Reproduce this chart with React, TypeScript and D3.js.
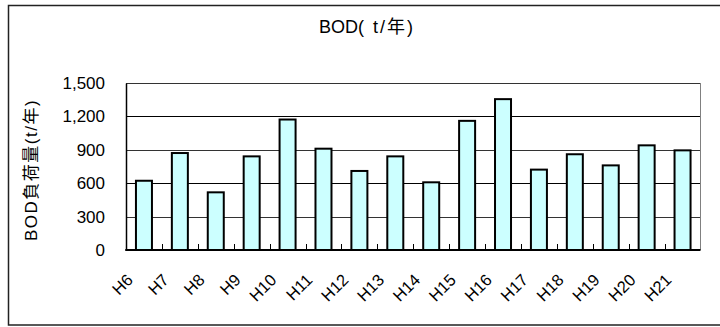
import React, { useEffect, useRef } from 'react'
import * as d3 from 'd3'

const years = ['H6', 'H7', 'H8', 'H9', 'H10', 'H11', 'H12', 'H13', 'H14', 'H15', 'H16', 'H17', 'H18', 'H19', 'H20', 'H21']
const bodLoad = [622, 871, 518, 841, 1172, 910, 710, 841, 608, 1160, 1355, 722, 860, 760, 940, 895]
const yTicks = [0, 300, 600, 900, 1200, 1500]

const FONT = '"Liberation Sans", Arial, "Noto Sans CJK JP", sans-serif'

const App: React.FC = () => {
  const svgRef = useRef<SVGSVGElement>(null)

  useEffect(() => {
    if (!svgRef.current) return
    const width = 720
    const height = 327
    const plot = { left: 126, top: 83, right: 700.5, bottom: 250 }

    const svg = d3.select(svgRef.current)
    svg.selectAll('*').remove()
    svg.attr('width', width).attr('height', height)

    // Chart frame (runs off the right edge like the original)
    svg.append('rect')
      .attr('x', 8.5)
      .attr('y', 5.5)
      .attr('width', 730)
      .attr('height', 319.5)
      .attr('fill', '#fff')
      .attr('stroke', '#222')
      .attr('stroke-width', 1.5)

    const x = d3.scaleBand().domain(years).range([plot.left, plot.right]).paddingInner(0).paddingOuter(0)
    const y = d3.scaleLinear().domain([0, 1500]).range([plot.bottom, plot.top])

    // Title
    const title = svg.append('text')
      .attr('x', 319)
      .attr('y', 33)
      .attr('font-family', FONT)
      .attr('font-size', 18)
    title.append('tspan').text('BOD')
    title.append('tspan').attr('letter-spacing', 2).text('( t/年)')

    // Grid lines
    svg.append('g')
      .selectAll('line')
      .data(yTicks.slice(1))
      .join('line')
      .attr('x1', plot.left)
      .attr('x2', plot.right)
      .attr('y1', (d) => Math.round(y(d)) + 0.5)
      .attr('y2', (d) => Math.round(y(d)) + 0.5)
      .attr('stroke', (d, i) => (i % 2 === 0 ? '#333' : '#000'))
      .attr('stroke-width', 1)

    // Right edge of plot area
    svg.append('line')
      .attr('x1', plot.right)
      .attr('x2', plot.right)
      .attr('y1', plot.top)
      .attr('y2', plot.bottom)
      .attr('stroke', '#808080')

    // Bars
    const bw = 16
    svg.append('g')
      .selectAll('rect')
      .data(years)
      .join('rect')
      .attr('x', (d) => x(d)! + x.bandwidth() / 2 - bw / 2)
      .attr('y', (d, i) => y(bodLoad[i]))
      .attr('width', bw)
      .attr('height', (d, i) => plot.bottom - y(bodLoad[i]))
      .attr('fill', '#ccffff')
      .attr('stroke', '#000')
      .attr('stroke-width', 2)

    // Y axis
    const yAxis = svg.append('g')
      .attr('transform', `translate(${plot.left},0)`)
      .call(d3.axisLeft(y).tickValues(yTicks).tickSize(0).tickPadding(21).tickFormat(d3.format(',')))
    yAxis.select('.domain').attr('stroke', '#000').attr('stroke-width', 1.5)
    yAxis.selectAll('.tick text')
      .attr('font-family', FONT)
      .attr('font-size', 17)
      .attr('fill', '#000')

    // X axis baseline + category boundary ticks
    svg.append('line')
      .attr('x1', plot.left - 0.75)
      .attr('x2', plot.right)
      .attr('y1', plot.bottom)
      .attr('y2', plot.bottom)
      .attr('stroke', '#000')
      .attr('stroke-width', 2)
    svg.append('g')
      .selectAll('line')
      .data(years.slice(1))
      .join('line')
      .attr('x1', (d) => Math.round(x(d)!) + 0.5)
      .attr('x2', (d) => Math.round(x(d)!) + 0.5)
      .attr('y1', plot.bottom)
      .attr('y2', plot.bottom - 6)
      .attr('stroke', '#000')

    // X labels, slanted 45 degrees
    svg.append('g')
      .selectAll('text')
      .data(years)
      .join('text')
      .attr('transform', (d) => `translate(${x(d)! + x.bandwidth() / 2 - 10},${plot.bottom + 31}) rotate(-45)`)
      .attr('text-anchor', 'end')
      .attr('font-family', FONT)
      .attr('font-size', 16.5)
      .text((d) => d)

    // Y axis label
    svg.append('text')
      .attr('transform', `translate(37,170) rotate(-90)`)
      .attr('text-anchor', 'middle')
      .attr('font-family', FONT)
      .attr('font-size', 17)
      .attr('letter-spacing', 1.5)
      .text('BOD負荷量(t/年)')
  }, [])

  return (
    <div style={{ position: 'absolute', left: 0, top: 0 }}>
      <svg ref={svgRef} style={{ display: 'block' }}></svg>
    </div>
  )
}

export default App
